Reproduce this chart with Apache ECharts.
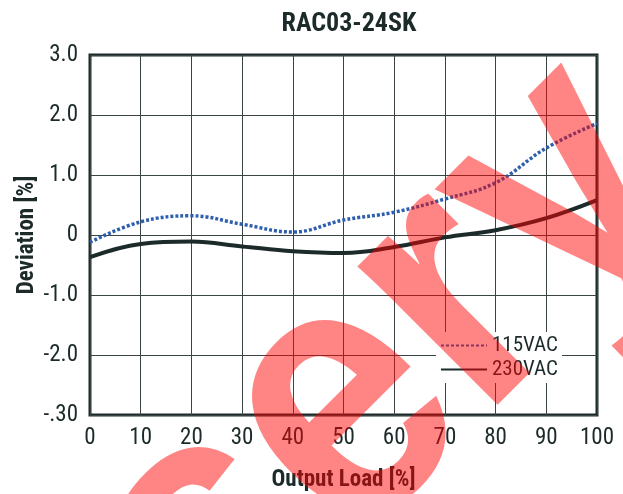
<!DOCTYPE html>
<html>
<head>
<meta charset="utf-8">
<script src="https://cdn.jsdelivr.net/npm/echarts@6/dist/echarts.min.js"></script>
<style>
  html, body { margin: 0; padding: 0; background: #fff; }
  #chart { width: 623px; height: 494px; }
</style>
</head>
<body>
<div id="chart"></div>
<script type="text/javascript">
var loads = [0, 10, 20, 30, 40, 50, 60, 70, 80, 90, 100];
var vac115 = [-0.12, 0.22, 0.32, 0.18, 0.05, 0.25, 0.38, 0.6, 0.87, 1.45, 1.86];
var vac230 = [-0.37, -0.15, -0.11, -0.19, -0.27, -0.3, -0.2, -0.04, 0.08, 0.28, 0.58];
var yTicks = [-3, -2, -1, 0, 1, 2, 3];
var yTickLabels = ['-.30', '-2.0', '-1.0', '0', '1.0', '2.0', '3.0'];

var font = "'Liberation Sans Narrow', 'Roboto Condensed', 'Liberation Sans', Arial, sans-serif";
var ink = '#1c2a2a';

function pairs(ys) {
  return loads.map(function (x, i) { return [x, ys[i]]; });
}

var chart = echarts.init(document.getElementById('chart'));
var option = {
  backgroundColor: '#fff',
  animation: false,
  title: {
    text: 'RAC03-24SK',
    left: 344, top: 6,
    textAlign: 'center',
    textStyle: { fontFamily: font, fontWeight: 'bold', fontSize: 26, color: ink }
  },
  grid: {
    left: 90, right: 26, top: 55, bottom: 79,
    outerBoundsMode: 'none',
    show: true, borderColor: ink, borderWidth: 3, backgroundColor: '#fff'
  },
  legend: {
    orient: 'vertical',
    left: 436, top: 332,
    backgroundColor: '#fff',
    padding: [3, 4, 3, 4],
    itemGap: 3,
    itemWidth: 46, itemHeight: 4,
    itemStyle: { opacity: 0 },
    textStyle: { fontFamily: font, fontSize: 21, color: ink },
    data: ['115VAC', '230VAC']
  },
  xAxis: {
    type: 'value', min: 0, max: 100, interval: 10,
    name: 'Output Load [%]', nameLocation: 'middle', nameGap: 54,
    nameMoveOverlap: false,
    nameTextStyle: { fontFamily: font, fontWeight: 'bold', fontSize: 23, color: ink },
    axisLine: { show: false }, axisTick: { show: false },
    axisLabel: { margin: 12, fontFamily: font, fontSize: 23, color: ink },
    splitLine: { show: true, lineStyle: { color: '#3a4444', width: 1 } }
  },
  yAxis: {
    type: 'value', min: -3, max: 3, interval: 1,
    name: 'Deviation [%]', nameLocation: 'middle', nameGap: 51,
    nameMoveOverlap: false,
    nameTextStyle: { fontFamily: font, fontWeight: 'bold', fontSize: 23, color: ink },
    axisLine: { show: false }, axisTick: { show: false },
    axisLabel: {
      margin: 12, fontFamily: font, fontSize: 23, color: ink,
      formatter: function (v) { return yTickLabels[yTicks.indexOf(v)]; }
    },
    splitLine: { show: true, lineStyle: { color: '#3a4444', width: 1 } }
  },
  series: [{
    name: '115VAC', type: 'line', smooth: 0.4, showSymbol: false, symbol: 'none',
    lineStyle: { color: '#2d5fae', width: 3.5, type: [3, 2] },
    itemStyle: { color: '#2d5fae' },
    data: pairs(vac115), z: 3
  }, {
    name: '230VAC', type: 'line', smooth: 0.4, showSymbol: false, symbol: 'none',
    lineStyle: { color: ink, width: 4 },
    itemStyle: { color: ink },
    data: pairs(vac230), z: 3
  }],
  graphic: [{
    type: 'text', z: 100, silent: true,
    x: 149, y: 608, rotation: Math.PI / 4, scaleX: 1, scaleY: 1.13,
    style: {
      text: 'sery',
      font: "bold 330px 'Liberation Sans', Arial, sans-serif",
      fill: 'rgba(255,0,0,0.48)',
      textAlign: 'left', textVerticalAlign: 'middle'
    }
  }]
};
chart.setOption(option);
</script>
</body>
</html>
